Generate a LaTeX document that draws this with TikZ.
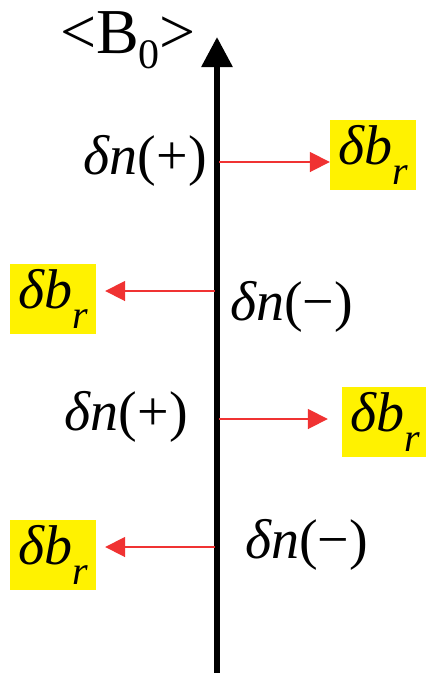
\documentclass[tikz,border=0pt]{standalone}
\usepackage{fontspec}
\setmainfont{Liberation Serif}
\usetikzlibrary{arrows.meta}
\definecolor{arrowred}{RGB}{240,50,50}
\newcommand{\bigtxt}{\fontsize{56}{64}\selectfont}
\newcommand{\dbr}{{\fontsize{56}{64}\selectfont\itshape δb}\raisebox{-20pt}{\fontsize{40}{44}\selectfont\itshape r}}
\newcommand{\dn}[1]{{\bigtxt\itshape δn}{\bigtxt(#1)}}

\begin{document}
\begin{tikzpicture}[x=1pt, y=-1pt, >={Triangle[length=20pt, width=20pt]},
    box/.style={fill=yellow, minimum width=86pt, minimum height=70pt, inner sep=0pt},
    lbl/.style={inner sep=0pt}]
    \useasboundingbox (0,0) rectangle (426,673);

    % field axis
    \coordinate (bottom) at (217, 673);
    \coordinate (top) at (217, 37);
    \draw[line width=6pt, -{Triangle[length=30pt, width=30pt]}] (bottom) -- (top);
    \node[lbl, anchor=base west] (B0) at (60, 53)
        {\fontsize{64}{72}\selectfont <B\raisebox{-15pt}{\fontsize{42}{44}\selectfont 0}>};

    % density perturbations
    \node[lbl, anchor=base east] (n1) at (207, 174) {\dn{+}};
    \node[lbl, anchor=base west] (n2) at (230, 320) {\dn{−}};
    \node[lbl, anchor=base east] (n3) at (188, 430) {\dn{+}};
    \node[lbl, anchor=base west] (n4) at (245, 558) {\dn{−}};

    % field perturbations
    \node[box] (b1) at (373, 155) {\dbr};
    \node[box] (b2) at (53, 299) {\dbr};
    \node[box] (b3) at (385, 422) {\dbr};
    \node[box] (b4) at (53, 555) {\dbr};

    \coordinate (p1) at (219, 162);
    \coordinate (p2) at (215, 291);
    \coordinate (p3) at (219, 419);
    \coordinate (p4) at (215, 547);

    \draw[->, arrowred, line width=1.8pt] (p1) -- (p1 -| b1.west);
    \draw[->, arrowred, line width=1.8pt, shorten >=9pt] (p2) -- (p2 -| b2.east);
    \draw[->, arrowred, line width=1.8pt, shorten >=14pt] (p3) -- (p3 -| b3.west);
    \draw[->, arrowred, line width=1.8pt, shorten >=9pt] (p4) -- (p4 -| b4.east);
\end{tikzpicture}
\end{document}
